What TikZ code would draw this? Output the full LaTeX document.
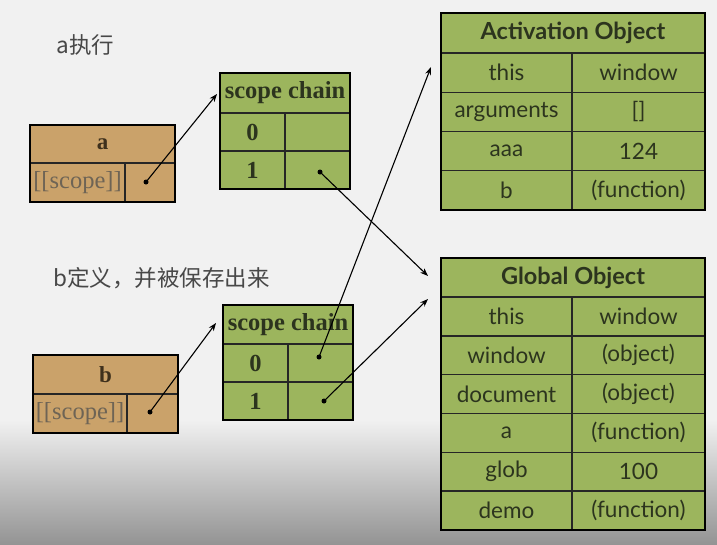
\documentclass[tikz,border=0pt]{standalone}
\usepackage{fontspec}
\setmainfont{Lato}
\newfontfamily\cjk{Noto Sans CJK SC}
\newfontfamily\oldserif{Liberation Serif}
\usetikzlibrary{arrows.meta}

\definecolor{paper}{RGB}{241,241,241}
\definecolor{tanfill}{RGB}{202,162,106}
\definecolor{tanink}{RGB}{62,48,28}
\definecolor{leaffill}{RGB}{156,181,93}
\definecolor{leafink}{RGB}{44,52,30}
\definecolor{noteink}{RGB}{72,72,72}

\tikzset{
  cell/.style={draw=black!85, line width=1.4pt, inner sep=0pt, outer sep=0pt, anchor=north west},
  gcell/.style={cell, fill=leaffill, text=leafink, font=\fontsize{22.5}{22.5}\selectfont},
  ghead/.style={gcell, font=\fontsize{23.5}{23.5}\selectfont\bfseries},
  chaincell/.style={cell, fill=leaffill, text=leafink, font=\oldserif\fontsize{24.5}{24.5}\selectfont\bfseries},
  tcell/.style={cell, fill=tanfill, text=tanink, font=\oldserif\fontsize{24.5}{24.5}\selectfont},
  frame/.style={line width=2.6pt, black},
  dot/.style={circle, fill=black, inner sep=0pt, minimum size=5pt},
  ptr/.style={-{Stealth[length=8pt,width=6pt]}, line width=1.1pt, black},
  note/.style={text=noteink, font=\cjk\fontsize{22.5}{22.5}\selectfont, anchor=west}
}

\begin{document}
\begin{tikzpicture}[x=1pt,y=-1pt]
  % background
  \useasboundingbox (0,0) rectangle (717,544);
  \fill[paper] (0,0) rectangle (717,544);
  \shade[top color=paper, bottom color=black!42] (0,420) rectangle (717,544);

  % notes
  \node[note] (noteA) at (53,45) {a执行};
  \node[note] (noteB) at (50,278) {b定义，并被保存出来};

  % function a
  \node[tcell, minimum width=145pt, minimum height=38pt, font=\oldserif\fontsize{23}{23}\selectfont\bfseries] (a-h) at (30,125) {a};
  \node[tcell, minimum width=95pt, minimum height=39pt, text=tanink!75] (a-k) at (30,163) {[[scope]]};
  \node[tcell, minimum width=50pt, minimum height=39pt] (a-v) at (125,163) {};
  \draw[frame] (a-h.north west) rectangle (a-v.south east);

  % function b
  \node[tcell, minimum width=145pt, minimum height=39pt, font=\oldserif\fontsize{23}{23}\selectfont\bfseries] (b-h) at (33,355) {b};
  \node[tcell, minimum width=94pt, minimum height=39pt, text=tanink!75] (b-k) at (33,394) {[[scope]]};
  \node[tcell, minimum width=51pt, minimum height=39pt] (b-v) at (127,394) {};
  \draw[frame] (b-h.north west) rectangle (b-v.south east);

  % scope chain of a
  \node[chaincell, minimum width=130pt, minimum height=40pt] (sca-h) at (220,73) {scope chain};
  \foreach \i/\y in {0/113,1/151} {
    \node[chaincell, minimum width=65pt, minimum height=38pt] (sca-k\i) at (220,\y) {\i};
    \node[chaincell, minimum width=65pt, minimum height=38pt] (sca-v\i) at (285,\y) {};
  }
  \draw[frame] (sca-h.north west) rectangle (sca-v1.south east);

  % scope chain of b
  \node[chaincell, minimum width=130pt, minimum height=39pt] (scb-h) at (223,305) {scope chain};
  \foreach \i/\y in {0/344,1/382} {
    \node[chaincell, minimum width=65pt, minimum height=38pt] (scb-k\i) at (223,\y) {\i};
    \node[chaincell, minimum width=65pt, minimum height=38pt] (scb-v\i) at (288,\y) {};
  }
  \draw[frame] (scb-h.north west) rectangle (scb-v1.south east);

  % Activation Object
  \node[ghead, minimum width=264pt, minimum height=40pt] (ao-h) at (441,13) {Activation Object};
  \foreach \k/\v [count=\i from 0] in {this/window, arguments/{[]}, aaa/124, b/(function)} {
    \node[gcell, minimum width=131pt, minimum height=39.25pt] (ao-k\i) at (441,53+39.25*\i) {\k};
    \node[gcell, minimum width=133pt, minimum height=39.25pt] (ao-v\i) at (572,53+39.25*\i) {\v};
  }
  \draw[frame] (ao-h.north west) rectangle (ao-v3.south east);

  % Global Object
  \node[ghead, minimum width=264pt, minimum height=39pt] (go-h) at (441,258) {Global Object};
  \foreach \k/\v [count=\i from 0] in {this/window, window/(object), document/(object), a/(function), glob/100, demo/(function)} {
    \node[gcell, minimum width=131pt, minimum height=38.8pt] (go-k\i) at (441,297+38.8*\i) {\k};
    \node[gcell, minimum width=133pt, minimum height=38.8pt] (go-v\i) at (572,297+38.8*\i) {\v};
  }
  \draw[frame] (go-h.north west) rectangle (go-v5.south east);

  % pointers
  \node[dot] (a-dot) at (146,182) {};
  \node[dot] (b-dot) at (150,412) {};
  \node[dot] (sca-dot1) at (320,172) {};
  \node[dot] (scb-dot0) at (319,357) {};
  \node[dot] (scb-dot1) at (324,401) {};
  \coordinate (sca-in) at (217,94);
  \coordinate (scb-in) at (216,323);
  \coordinate (ao-in) at (431,67);
  \coordinate (go-in1) at (428,276);
  \coordinate (go-in2) at (428,299);
  \draw[ptr] (a-dot.center) -- (sca-in);
  \draw[ptr] (b-dot.center) -- (scb-in);
  \draw[ptr] (sca-dot1.center) -- (go-in1);
  \draw[ptr] (scb-dot0.center) -- (ao-in);
  \draw[ptr] (scb-dot1.center) -- (go-in2);
\end{tikzpicture}
\end{document}
